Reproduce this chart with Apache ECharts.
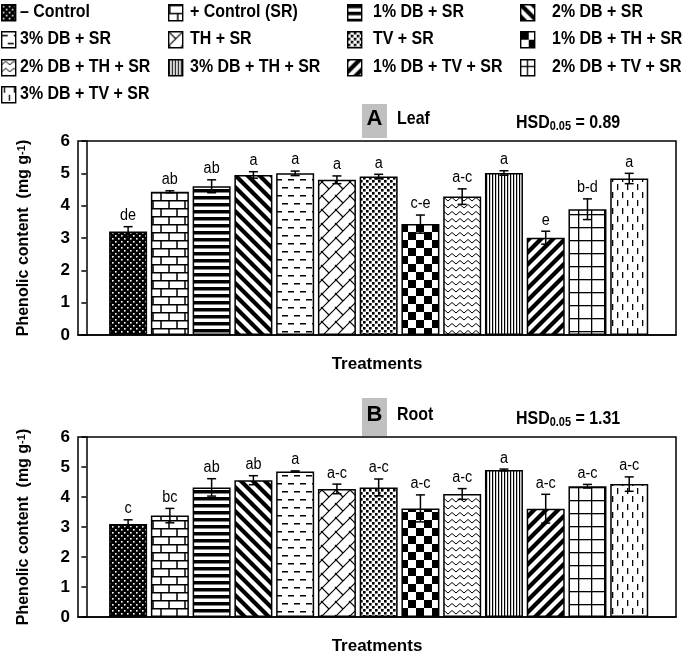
<!DOCTYPE html>
<html><head><meta charset="utf-8">
<script src="https://cdn.jsdelivr.net/npm/echarts@6/dist/echarts.min.js"></script>
<style>html,body{margin:0;padding:0;background:#fff}#c{width:685px;height:656px}</style>
</head><body><div id="c"></div>
<script>
const treatments = ['– Control','+ Control (SR)','1% DB + SR','2% DB + SR','3% DB + SR','TH + SR','TV + SR','1% DB + TH + SR','2% DB + TH + SR','3% DB + TH + SR','1% DB + TV + SR','2% DB + TV + SR','3% DB + TV + SR'];
const leafValues  = [3.2,4.43,4.6,4.95,5.0,4.8,4.9,3.43,4.28,5.01,3.01,3.89,4.84];
const leafErrors  = [0.15,0.03,0.2,0.1,0.07,0.12,0.07,0.28,0.24,0.07,0.2,0.32,0.16];
const leafLetters = ['de','ab','ab','a','a','a','a','c-e','a-c','a','e','b-d','a'];
const rootValues  = [3.1,3.38,4.32,4.56,4.85,4.27,4.32,3.62,4.1,4.9,3.61,4.36,4.43];
const rootErrors  = [0.14,0.24,0.29,0.15,0.02,0.16,0.28,0.45,0.18,0.03,0.48,0.06,0.24];
const rootLetters = ['c','bc','ab','ab','a','a-c','a-c','a-c','a-c','a','a-c','a-c','a-c'];
const yTicks = [0,1,2,3,4,5,6];
const leafHSD = '0.89', rootHSD = '1.31';

const FONT = "'Liberation Sans',Arial,sans-serif";
const NARROW = 0.84;

function mk(w,h,draw,bg){
  const c=document.createElement('canvas');c.width=w;c.height=h;
  const g=c.getContext('2d');g.fillStyle=bg||'#fff';g.fillRect(0,0,w,h);
  g.fillStyle='#000';g.strokeStyle='#000';draw(g,w,h);
  return {image:c,repeat:'repeat'};
}
function ln(g,x1,y1,x2,y2,lw){g.lineWidth=lw;g.beginPath();g.moveTo(x1,y1);g.lineTo(x2,y2);g.stroke();}
const patterns = [
  mk(6,6,(g)=>{g.fillStyle='#fff';g.fillRect(1,1,1.6,1.6);g.fillRect(4,4,1.6,1.6);},'#000'),
  mk(16,16,(g)=>{ln(g,0,0.75,16,0.75,1.5);ln(g,0,8.75,16,8.75,1.5);ln(g,1,0,1,8,1.5);ln(g,9,8,9,16,1.5);}),
  mk(8,7,(g)=>{g.fillRect(0,0,8,3.5);}),
  mk(12,12,(g)=>{g.lineCap='square';for(let k=-2;k<=2;k++){ln(g,k*12-2,-2,k*12+14,14,4.2);}}),
  mk(12,16,(g)=>{g.fillRect(0,3,6,1.5);g.fillRect(6,11,6,1.5);}),
  mk(14,14,(g)=>{for(let k=-1;k<=1;k++){ln(g,k*14-1,15,k*14+15,-1,1.2);} ln(g,-1,-1,7,7,1.2); ln(g,13,13,15,15,1.2);}),
  mk(6,6,(g)=>{g.fillRect(0,0,2.6,2.6);g.fillRect(3,3,2.6,2.6);}),
  mk(16,16,(g)=>{g.fillRect(0,0,8,8);g.fillRect(8,8,8,8);}),
  mk(8,7,(g)=>{g.lineWidth=1;g.beginPath();g.moveTo(0,5);g.lineTo(4,1.5);g.lineTo(8,5);g.stroke();}),
  mk(3,4,(g)=>{g.fillRect(0,0,1.2,4);}),
  mk(12,12,(g)=>{g.lineCap='square';for(let k=-2;k<=2;k++){ln(g,k*12-2,14,k*12+14,-2,4.2);}}),
  mk(13,13,(g)=>{g.fillRect(0,6,13,1.3);g.fillRect(6,0,1.3,13);}),
  mk(10,16,(g)=>{g.fillRect(2,0,1.3,6);g.fillRect(7,8,1.3,6);})
];

const X_MIN=-0.2, X_MAX=14.12;

function barData(vals){return vals.map((v,i)=>({value:[i+1,v],itemStyle:{color:patterns[i]}}));}
function errData(vals,errs){return vals.map((v,i)=>[i+1,v,errs[i]]);}
function errRender(letters){
  return function(params,api){
    const x=api.value(0),v=api.value(1),e=api.value(2);
    const hi=api.coord([x,v+e]),lo=api.coord([x,v-e]);
    const cw=4.5, st={stroke:'#000',lineWidth:1.5};
    return {type:'group',children:[
      {type:'line',shape:{x1:hi[0],y1:hi[1],x2:lo[0],y2:lo[1]},style:st},
      {type:'line',shape:{x1:hi[0]-cw,y1:hi[1],x2:hi[0]+cw,y2:hi[1]},style:st},
      {type:'line',shape:{x1:lo[0]-cw,y1:lo[1],x2:lo[0]+cw,y2:lo[1]},style:st},
      {type:'text',x:hi[0],y:hi[1]-3,scaleX:0.9,style:{text:letters[params.dataIndex],x:0,y:0,textAlign:'center',textVerticalAlign:'bottom',font:"16px "+FONT,fill:'#000'}}
    ]};
  };
}

const yName = {name:'Phenolic content  (mg g{sup|-1})',nameLocation:'middle',nameRotate:90,nameGap:46,
  nameTextStyle:{fontFamily:FONT,fontWeight:'bold',fontSize:16,color:'#000',rich:{sup:{fontFamily:FONT,fontWeight:'bold',fontSize:11,verticalAlign:'top',color:'#000'}}}};

function yAxis(idx){
  return Object.assign({type:'value',gridIndex:idx,min:yTicks[0],max:yTicks[yTicks.length-1],interval:1,
    axisLine:{show:true,lineStyle:{color:'#000',width:1.5}},
    axisTick:{show:true,length:5,lineStyle:{color:'#000',width:1.5}},
    axisLabel:{fontFamily:FONT,fontWeight:'bold',fontSize:17,color:'#000',margin:8},
    splitLine:{show:false}},yName);
}
function xAxis(idx){
  return {type:'value',gridIndex:idx,min:X_MIN,max:X_MAX,
    axisLine:{show:true,onZero:false,lineStyle:{color:'#000',width:1.5}},axisTick:{show:false},axisLabel:{show:false},splitLine:{show:false},
    name:'Treatments',nameLocation:'middle',nameGap:21,nameTextStyle:{fontFamily:FONT,fontWeight:'bold',fontSize:17,color:'#000'}};
}

const graphics=[];
const colIcon=[1,168,347,520], colText=[20,190,373,552], rowY=[12,39,67,94];
treatments.forEach((t,i)=>{
  const c=i%4, r=Math.floor(i/4);
  graphics.push({type:'rect',left:colIcon[c],top:rowY[r]-8,shape:{width:14,height:16},style:{fill:patterns[i],stroke:'#000',lineWidth:1.4}});
  graphics.push({type:'text',x:colText[c],y:rowY[r],scaleX:NARROW,style:{text:t,x:0,y:0,textVerticalAlign:'middle',font:"bold 19px "+FONT,fill:'#000'}});
});
function header(letter,word,hsd,boxTop,boxH,textY){
  graphics.push({type:'rect',shape:{x:362,y:boxTop,width:25,height:boxH},style:{fill:'#c0c0c0'}});
  graphics.push({type:'text',x:374.5,y:textY,style:{text:letter,font:"bold 22px "+FONT,fill:'#000',textAlign:'center',textVerticalAlign:'middle'}});
  graphics.push({type:'text',x:397,y:textY,scaleX:NARROW,style:{text:word,x:0,y:0,font:"bold 19px "+FONT,fill:'#000',textVerticalAlign:'middle'}});
  graphics.push({type:'text',x:516,y:textY+4,scaleX:NARROW,style:{x:0,y:0,text:'{b|HSD}{s|0.05}{b| = '+hsd+'}',textVerticalAlign:'middle',
    rich:{b:{font:"bold 19px "+FONT,fill:'#000'},s:{font:"bold 13px "+FONT,fill:'#000',verticalAlign:'bottom'}}}});
}
header('A','Leaf',leafHSD,104,34,119);
header('B','Root',rootHSD,398,38,415);

const option={
  animation:false,
  grid:[{left:78,right:9,top:141,height:194,show:true,borderColor:'#000',borderWidth:1.5},
        {left:78,right:9,top:437,height:190,show:true,borderColor:'#000',borderWidth:1.5}],
  xAxis:[xAxis(0),xAxis(1)],
  yAxis:[yAxis(0),yAxis(1)],
  series:[
    {type:'bar',xAxisIndex:0,yAxisIndex:0,barWidth:38,data:barData(leafValues),itemStyle:{borderColor:'#000',borderWidth:1.5}},
    {type:'custom',xAxisIndex:0,yAxisIndex:0,z:5,data:errData(leafValues,leafErrors),renderItem:errRender(leafLetters)},
    {type:'bar',xAxisIndex:1,yAxisIndex:1,barWidth:38,data:barData(rootValues),itemStyle:{borderColor:'#000',borderWidth:1.5}},
    {type:'custom',xAxisIndex:1,yAxisIndex:1,z:5,data:errData(rootValues,rootErrors),renderItem:errRender(rootLetters)}
  ],
  graphic:graphics
};
const chart=echarts.init(document.getElementById('c'));
chart.setOption(option);
</script></body></html>
